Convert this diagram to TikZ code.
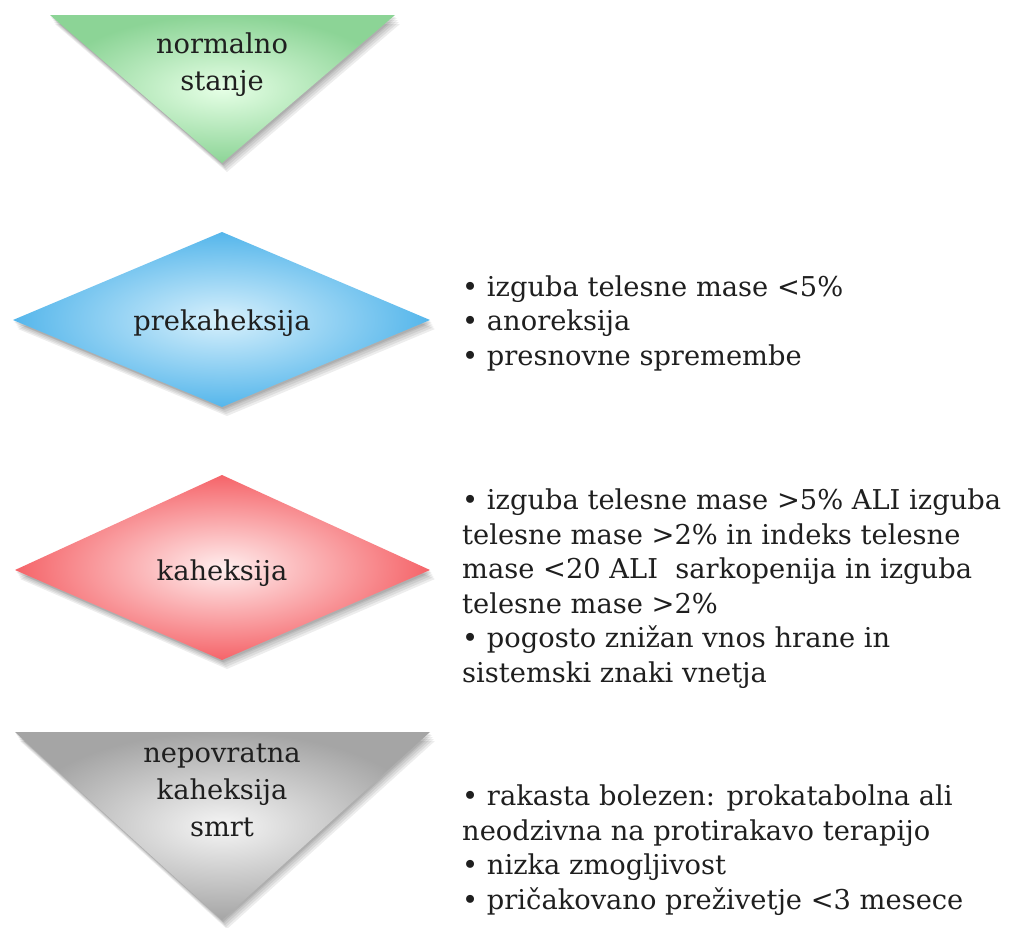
\documentclass[tikz,border=0pt]{standalone}
\usepackage{fontspec}
\setmainfont{DejaVu Serif}
\tikzset{
  txt/.style={font=\fontsize{27.3}{34.5}\selectfont, inner sep=0pt, text=black!88},
  lbl/.style={font=\fontsize{27.3}{37}\selectfont, inner sep=0pt, text=black!88, align=center, anchor=base},
  shadowlayer/.style={fill=black, opacity=0.07, draw=none},
}
\newcommand{\fakeshadow}[1]{%
  \foreach \dx/\dy in {2/3,3/5,4/7,5/9,1/2}{%
    \path[shadowlayer, shift={(\dx,\dy)}] #1;}%
}
\begin{document}
\begin{tikzpicture}[x=1pt,y=-1pt]
\useasboundingbox[fill=white] (0,0) rectangle (1010,927);

% green triangle
\def\triA{(50,15) -- (395,15) -- (222,163) -- cycle}
\fakeshadow{\triA}
\shade[inner color=green!10!white, outer color={rgb,255:red,140;green,212;blue,150}] \triA;
% blue diamond
\def\diaB{(13,320) -- (222,232) -- (430,320) -- (222,407) -- cycle}
\fakeshadow{\diaB}
\shade[inner color={rgb,255:red,215;green,240;blue,252}, outer color={rgb,255:red,85;green,182;blue,235}] \diaB;
% red diamond
\def\diaC{(15,570) -- (222,475) -- (430,570) -- (222,660) -- cycle}
\fakeshadow{\diaC}
\shade[inner color={rgb,255:red,255;green,238;blue,238}, outer color={rgb,255:red,245;green,100;blue,105}] \diaC;
% grey triangle
\def\triD{(15,732) -- (430,732) -- (222,920) -- cycle}
\fakeshadow{\triD}
\shade[inner color={rgb,255:red,245;green,245;blue,245}, outer color={rgb,255:red,165;green,165;blue,165}] \triD;

% base anchor of a multi-line node = baseline of its last line
\node[lbl] (n1) at (222,90) {normalno\\stanje};
\node[lbl] (n2) at (222,330) {prekaheksija};
\node[lbl] (n3) at (222,580) {kaheksija};
\node[lbl] (n4) at (222,836) {nepovratna\\kaheksija\\smrt};

\node[txt, anchor=base west, align=left] (t1) at (462,365)
  {• izguba telesne mase <5\%\\• anoreksija\\• presnovne spremembe};
\node[txt, anchor=base west, align=left] (t2) at (462,682)
  {• izguba telesne mase >5\% ALI izguba\\telesne mase >2\% in indeks telesne\\mase <20 ALI\ \ sarkopenija in izguba\\telesne mase >2\%\\• pogosto znižan vnos hrane in\\sistemski znaki vnetja};
\node[txt, anchor=base west, align=left] (t3) at (462,909)
  {• rakasta bolezen: prokatabolna ali\\neodzivna na protirakavo terapijo\\• nizka zmogljivost\\• pričakovano preživetje <3 mesece};
\end{tikzpicture}
\end{document}
